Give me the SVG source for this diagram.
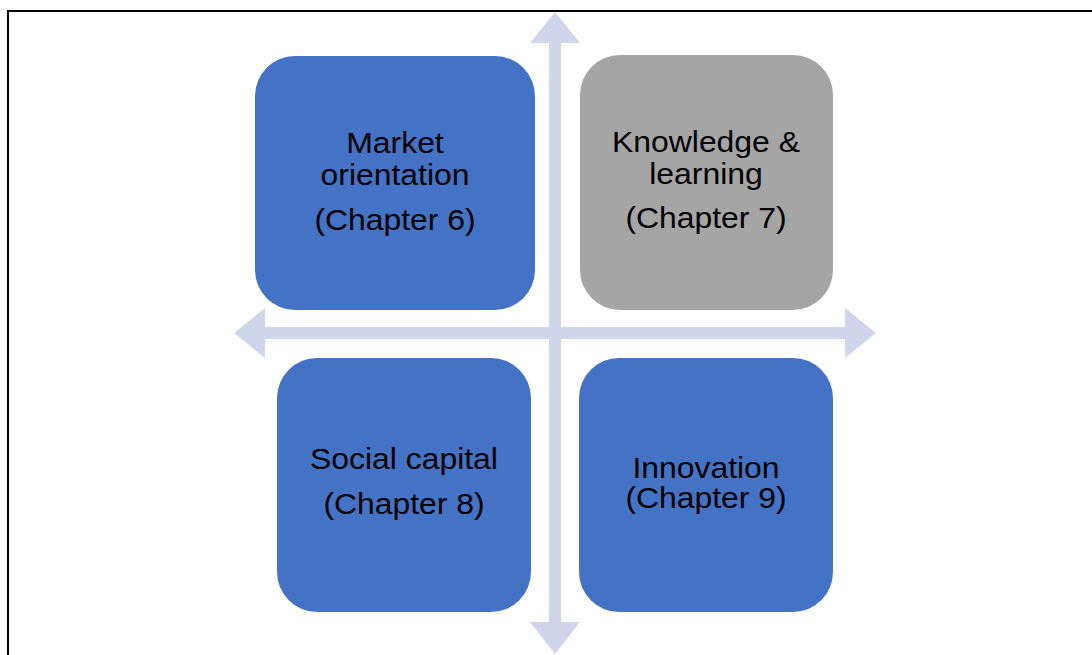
<svg xmlns="http://www.w3.org/2000/svg" width="1092" height="655" viewBox="0 0 1092 655">
<style>
.frame{fill:none;stroke:#000;stroke-width:2}
.arrow{fill:#CFD5EA;stroke:none}
.blue{fill:#4472C4}
.gray{fill:#A5A5A5}
.lbl{font-family:"Liberation Sans",Arial,sans-serif;font-size:29px;fill:#000;text-anchor:middle}
</style>
<rect width="1092" height="655" fill="#fff"/>
<path class="frame" d="M8,655 V11 H1092"/>
<g id="connectors">
<polygon class="arrow" points="555,12 580,43 561,43 561,327 845,327 845,308 876,333 845,358 845,339 561,339 561,622 580,622 555,654 530,622 549,622 549,339 265,339 265,358 234,333 265,308 265,327 549,327 549,43 530,43"/>
</g>
<g id="market">
<rect class="blue" x="255" y="56" width="280" height="254" rx="40" ry="40"/>
<g transform="translate(395,0) scale(1.1,1)">
<text class="lbl" x="0" y="153">Market</text>
<text class="lbl" x="0" y="185">orientation</text>
<text class="lbl" x="0" y="230">(Chapter 6)</text>
</g>
</g>
<g id="knowledge">
<rect class="gray" x="580" y="55" width="253" height="255" rx="40" ry="40"/>
<g transform="translate(706,0) scale(1.1,1)">
<text class="lbl" x="0" y="152">Knowledge &amp;</text>
<text class="lbl" x="0" y="184">learning</text>
<text class="lbl" x="0" y="228">(Chapter 7)</text>
</g>
</g>
<g id="social">
<rect class="blue" x="277" y="358" width="254" height="254" rx="40" ry="40"/>
<g transform="translate(404,0) scale(1.1,1)">
<text class="lbl" x="0" y="469">Social capital</text>
<text class="lbl" x="0" y="514">(Chapter 8)</text>
</g>
</g>
<g id="innovation">
<rect class="blue" x="579" y="358" width="254" height="254" rx="40" ry="40"/>
<g transform="translate(706,0) scale(1.1,1)">
<text class="lbl" x="0" y="478">Innovation</text>
<text class="lbl" x="0" y="508">(Chapter 9)</text>
</g>
</g>
</svg>
